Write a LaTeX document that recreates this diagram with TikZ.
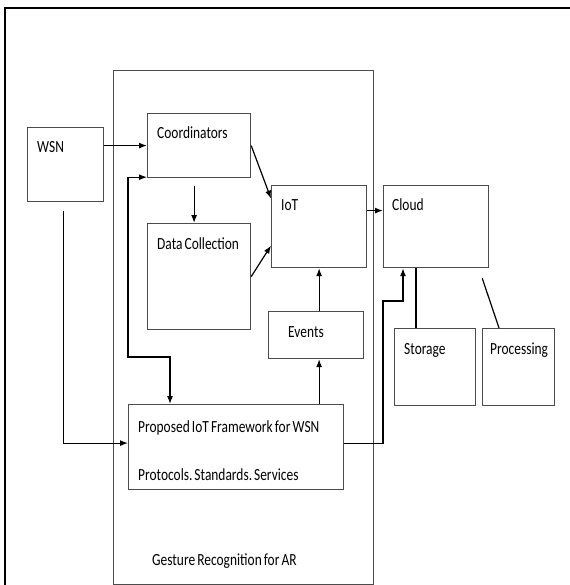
\documentclass[tikz,border=0pt]{standalone}
\usepackage{fontspec}
\setmainfont{Carlito}[FakeStretch=0.79, WordSpace=0.7]
\usetikzlibrary{arrows.meta, positioning}
\definecolor{boxcolor}{rgb}{0.3, 0.3, 0.3}
\newcommand{\tagfont}{\fontsize{17}{20}\selectfont\frenchspacing}
\tikzset{box/.style={draw=boxcolor, line width=1.2pt, anchor=north west, inner sep=0pt}}
\tikzset{tag/.style={anchor=base west, inner sep=0pt, xshift=10pt, yshift=-26pt, font=\tagfont}}
\tikzset{link/.style={line width=1.2pt, -{Latex[length=8pt,width=6pt]}}}
\tikzset{plain/.style={line width=1.2pt}}

\begin{document}
\begin{tikzpicture}[x=1pt, y=-1pt]
	\useasboundingbox (0,0) rectangle (569,585);
	
	%%% FRAME %%%
	\draw[line width=2.5pt] (5,586) -- (5,8) -- (570,8);
	
	%%% NODES %%%
	
	% OUTER BLOCK
	\node[box, minimum width=260pt, minimum height=514pt,
		label={[anchor=base west, inner sep=0pt, xshift=39pt, yshift=20pt, font=\tagfont]south west:Gesture Recognition for AR}]
		at (113,70) (gesture) {};
	
	% SENSORS
	\node[box, minimum width=76pt, minimum height=74pt, label={[tag]north west:WSN}] at (27,127) (wsn) {};
	\node[box, minimum width=103pt, minimum height=64pt, label={[tag]north west:Coordinators}] at (147,113) (coord) {};
	\node[box, minimum width=103pt, minimum height=106pt, label={[tag]north west:Data Collection}] at (147,223) (data) {};
	
	% IOT
	\node[box, minimum width=95pt, minimum height=82pt, label={[tag]north west:IoT}] at (271,185) (iot) {};
	\node[box, minimum width=95pt, minimum height=47pt, label={[tag, xshift=10pt]north west:Events}] at (268,311) (events) {};
	\node[box, minimum width=215pt, minimum height=85pt,
		label={[tag, yshift=-2pt]north west:Proposed IoT Framework for WSN},
		label={[tag, yshift=-50pt]north west:Protocols.\hspace{2pt}Standards.\hspace{2pt}Services}] at (128,404) (prop) {};
	
	% CLOUD
	\node[box, minimum width=105pt, minimum height=82pt, label={[tag, xshift=-1pt]north west:Cloud}] at (383,185) (cloud) {};
	\node[box, minimum width=81pt, minimum height=77pt, label={[tag]north west:Storage}] at (394,328) (storage) {};
	\node[box, minimum width=72pt, minimum height=77pt, label={[tag, xshift=-2pt]north west:Processing}] at (482,328) (proc) {};
	
	\coordinate (loop) at (128,357);
	\coordinate (bend) at (383,301);
	
	%%% ARROWS %%%
	
	% SENSORS
	\draw[link] (wsn.east |- coord.west) -- (coord.west);
	\draw[link, {Latex[length=8pt,width=6pt]}-{Latex[length=8pt,width=6pt]}] ([yshift=1pt]coord.south west) -| (loop) -| ([xshift=42pt]prop.north west);
	\draw[link] ([xshift=-5pt, yshift=-8pt]coord.south) -- ([xshift=-5pt]data.north);
	\draw[link] (coord.east) -- ([yshift=28pt]iot.west);
	\draw[link] (data.east) -- ([yshift=-19pt]iot.west);
	\draw[link] ([xshift=-2pt, yshift=-9pt]wsn.south) |- ([yshift=4pt]prop.west);
	
	% IOT
	\draw[link] ([yshift=16pt]iot.east) -- ([yshift=16pt]cloud.west);
	\draw[link] (events.north -| iot.south) -- (iot.south);
	\draw[link] (prop.north -| iot.south) -- (events.south -| iot.south);
	\draw[link] ([yshift=4pt]prop.east) -| (bend) -| ([xshift=20pt]cloud.south west);
	
	% CLOUD
	\draw[plain] ([xshift=22pt]storage.north west |- cloud.south) -- ([xshift=22pt]storage.north west);
	\draw[plain] ([xshift=-7pt, yshift=-10pt]cloud.south east) -- ([xshift=17pt]proc.north west);
	
\end{tikzpicture}
\end{document}
